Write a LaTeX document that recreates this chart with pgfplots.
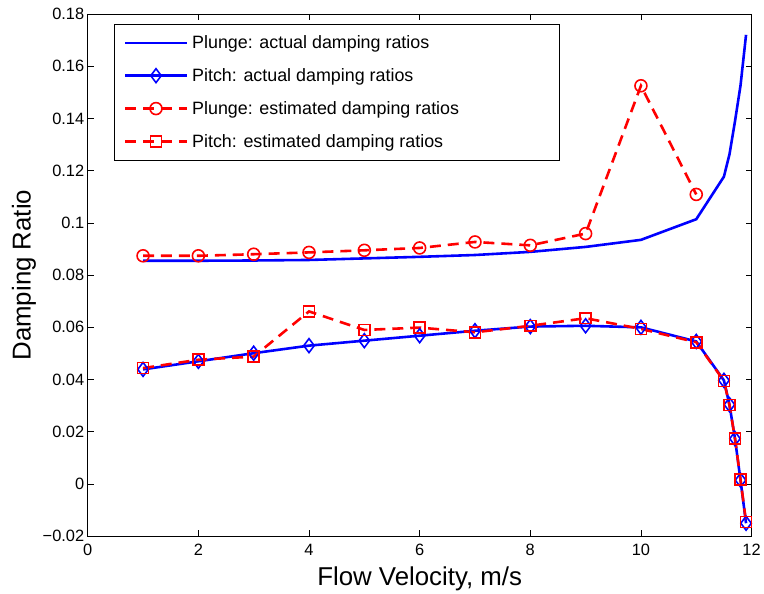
\documentclass[border=0pt]{standalone}
\usepackage{fontspec}
\setmainfont{Liberation Sans}
\usepackage{pgfplots}
\pgfplotsset{compat=1.18}

\definecolor{mblue}{rgb}{0,0,1}
\definecolor{mred}{rgb}{1,0,0}

\begin{document}
\begin{tikzpicture}
\begin{axis}[
  scale only axis,
  width=666bp, height=524bp,
  xmin=0, xmax=12, ymin=-0.02, ymax=0.18,
  axis line style={line width=0.9bp},
  tick style={line width=0.7bp, black},
  tick align=inside,
  major tick length=6bp,
  xtick={0,2,4,6,8,10,12},
  xticklabels={0,2,4,6,8,10,12},
  ytick={-0.02,0,0.02,0.04,0.06,0.08,0.1,0.12,0.14,0.16,0.18},
  yticklabels={−0.02,0,0.02,0.04,0.06,0.08,0.1,0.12,0.14,0.16,0.18},
  ticklabel style={font=\fontsize{16.5}{18}\selectfont},
  xticklabel style={yshift=-4bp},
  xlabel={Flow Velocity, m/s},
  ylabel={Damping Ratio},
  label style={font=\fontsize{26}{30}\selectfont},
  xlabel style={at={(axis description cs:0.5,0)}, anchor=base, yshift=-49bp},
  ylabel style={at={(axis description cs:-0.0961,0.5)}, anchor=center},
  legend cell align=left,
  legend style={
    at={(rel axis cs:0,1)}, anchor=north west, xshift=26bp, yshift=-10bp,
    font=\fontsize{18}{21}\selectfont,
    draw=black,
    inner xsep=10bp, inner ysep=9bp,
    row sep=13.5bp,
    nodes={inner xsep=4bp, inner ysep=2.5bp},
  },
  legend image code/.code={
    \draw[line width=2.6bp, mark repeat=2, mark phase=2]
      plot coordinates {(0bp,0bp) (31bp,0bp) (62bp,0bp)};
  },
]
% plunge mode, actual damping
\addplot[mblue, line width=2.6bp, solid, mark=none] coordinates {
  (1,0.0855) (2,0.0855) (3,0.0856) (4,0.0858) (5,0.0864) (6,0.0870)
  (7,0.0877) (8,0.0889) (9,0.0908) (10,0.0935) (11,0.1014)
  (11.5,0.1177) (11.6,0.1262) (11.7,0.1389) (11.8,0.1526) (11.9,0.1720)
};
\addlegendentry{Plunge: actual damping ratios}
% pitch mode, actual damping
\addplot[mblue, line width=2.6bp, solid, mark=diamond, mark size=7bp, mark options={solid, line width=1.6bp}] coordinates {
  (1,0.0439) (2,0.0470) (3,0.0501) (4,0.0530) (5,0.0549) (6,0.0568)
  (7,0.0587) (8,0.0603) (9,0.0606) (10,0.0600) (11,0.0546)
  (11.5,0.0397) (11.6,0.0304) (11.7,0.0174) (11.8,0.0015) (11.9,-0.0150)
};
\addlegendentry{Pitch: actual damping ratios}
% plunge mode, estimated damping
\addplot[mred, line width=2.6bp, dash pattern=on 11bp off 7bp, mark=o, mark size=6bp, mark options={solid, line width=1.6bp}] coordinates {
  (1,0.0874) (2,0.0874) (3,0.0880) (4,0.0887) (5,0.0895) (6,0.0904)
  (7,0.0927) (8,0.0914) (9,0.0959) (10,0.1525) (11,0.1109)
};
\addlegendentry{\makebox[354bp][l]{Plunge: estimated damping ratios}}
% pitch mode, estimated damping
\addplot[mred, line width=2.6bp, dash pattern=on 11bp off 7bp, mark=square, mark size=5.5bp, mark options={solid, line width=1.6bp}] coordinates {
  (1,0.0444) (2,0.0476) (3,0.0488) (4,0.0661) (5,0.0590) (6,0.0599)
  (7,0.0581) (8,0.0606) (9,0.0635) (10,0.0594) (11,0.0543)
  (11.5,0.0395) (11.6,0.0302) (11.7,0.0175) (11.8,0.0017) (11.9,-0.0145)
};
\addlegendentry{Pitch: estimated damping ratios}
\end{axis}
\path (current axis.south west) ++(-88bp,-56bp) coordinate (bbsw);
\path (current axis.north east) ++(10bp,14bp) coordinate (bbne);
\path (bbsw) rectangle (bbne);
\end{tikzpicture}
\end{document}
